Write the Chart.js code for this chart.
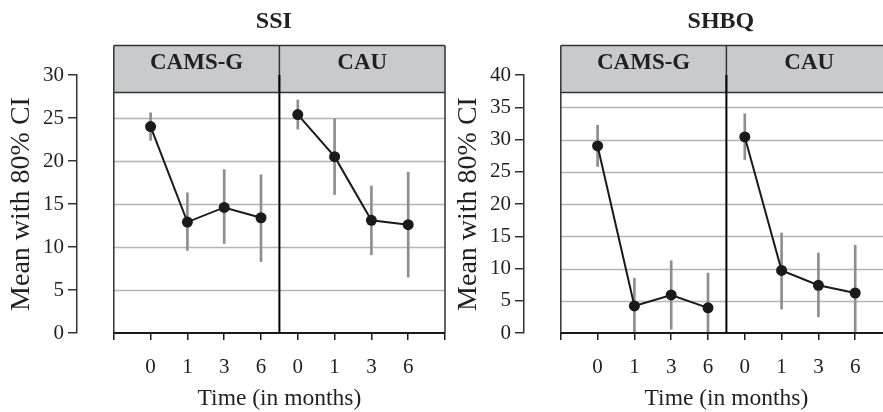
<!DOCTYPE html>
<html>
<head>
<meta charset="utf-8">
<script src="https://cdn.jsdelivr.net/npm/chart.js@4/dist/chart.umd.min.js"></script>
<style>
  html, body { margin: 0; padding: 0; background: #fff; overflow: hidden; }
  #wrap { position: relative; width: 883px; height: 412px; overflow: hidden; }
  canvas { position: absolute; top: 0; }
</style>
</head>
<body>
<div id="wrap">
  <canvas id="ssi" width="460" height="412" style="left:0"></canvas>
  <canvas id="shbq" width="460" height="412" style="left:447px"></canvas>
</div>
<script>
// tiempos de seguimiento (etiquetas del eje x)
const months = ['0', '1', '3', '6'];
const groups = ['CAMS-G', 'CAU'];

// SSI: media e intervalo de confianza 80%
const ssiCamsMean = [24.0, 12.9, 14.6, 13.4];
const ssiCamsLow  = [22.4, 9.6, 10.4, 8.3];
const ssiCamsHigh = [25.6, 16.3, 19.0, 18.4];
const ssiCauMean  = [25.4, 20.5, 13.1, 12.6];
const ssiCauLow   = [23.7, 16.1, 9.1, 6.5];
const ssiCauHigh  = [27.1, 24.9, 17.1, 18.7];

// SHBQ
const shbqCamsMean = [29.0, 4.2, 5.9, 3.9];
const shbqCamsLow  = [25.8, -0.2, 0.6, -1.4];
const shbqCamsHigh = [32.2, 8.5, 11.2, 9.3];
const shbqCauMean  = [30.4, 9.7, 7.4, 6.2];
const shbqCauLow   = [26.9, 3.7, 2.5, -1.1];
const shbqCauHigh  = [34.0, 15.5, 12.4, 13.6];

const FONT = "'Liberation Serif', 'Times New Roman', serif";
const TXT = '#231f20';

/* plugin para el recuadro, la franja gris, el divisor y los títulos */
const panelDeco = {
    id: 'panelDeco',
    beforeDatasetsDraw(chart, args, opts) {
        const {ctx} = chart;
        const x = chart.scales.x, y = chart.scales.y;
        ctx.save();
        ctx.strokeStyle = '#b5b5b5';
        ctx.lineWidth = 1.5;
        y.ticks.forEach(t => {
            if (t.value <= 0) return;
            const py = Math.round(y.getPixelForValue(t.value)) + 0.5;
            ctx.beginPath();
            ctx.moveTo(x.getPixelForValue(-1), py);
            ctx.lineTo(x.getPixelForValue(8), py);
            ctx.stroke();
        });
        ctx.restore();
    },
    afterDatasetsDraw(chart, args, opts) {
        const {ctx} = chart;
        const x = chart.scales.x, y = chart.scales.y;
        const left = x.getPixelForValue(-1), right = x.getPixelForValue(8);
        const mid = x.getPixelForValue(3.5);
        const stripTop = 45.5, stripBottom = 92.5;
        const bottom = y.getPixelForValue(0);
        ctx.save();
        // franja
        ctx.fillStyle = '#c9cacc';
        ctx.fillRect(left, stripTop, right - left, stripBottom - stripTop);
        ctx.strokeStyle = '#333';
        ctx.lineWidth = 1.5;
        ctx.beginPath();
        ctx.moveTo(left, stripTop); ctx.lineTo(right, stripTop);
        ctx.moveTo(left, stripBottom); ctx.lineTo(right, stripBottom);
        ctx.moveTo(left, stripTop); ctx.lineTo(left, bottom);
        ctx.moveTo(right, stripTop); ctx.lineTo(right, bottom);
        ctx.moveTo(mid, stripTop); ctx.lineTo(mid, stripBottom);
        ctx.stroke();
        // eje inferior
        ctx.strokeStyle = '#1a1a1a';
        ctx.lineWidth = 2;
        ctx.beginPath();
        ctx.moveTo(left, bottom); ctx.lineTo(right, bottom);
        ctx.stroke();
        // divisor entre grupos
        ctx.strokeStyle = '#000';
        ctx.lineWidth = 2;
        ctx.beginPath();
        ctx.moveTo(mid, y.getPixelForValue(y.max));
        ctx.lineTo(mid, bottom);
        ctx.stroke();
        // etiquetas de la franja
        ctx.fillStyle = TXT;
        ctx.textAlign = 'center';
        ctx.textBaseline = 'alphabetic';
        ctx.font = 'bold 23px ' + FONT;
        ctx.fillText(groups[0], x.getPixelForValue(1.25), 69);
        ctx.fillText(groups[1], x.getPixelForValue(5.75), 69);
        // titulo principal
        ctx.font = 'bold 24px ' + FONT;
        ctx.fillText(opts.title, x.getPixelForValue(3.35), 28);
        // titulo eje x
        ctx.font = '23.5px ' + FONT;
        ctx.fillText('Time (in months)', mid, 405);
        ctx.restore();
    }
};

function errorBars(low, high, shift) {
    return low.map((lo, i) => ({x: i + shift, y: [lo, high[i]]}));
}
function points(mean, shift) {
    return mean.map((m, i) => ({x: i + shift, y: m}));
}

function crearPanel(id, titulo, yMax, camsMean, camsLow, camsHigh, cauMean, cauLow, cauHigh) {
    const barStyle = {
        type: 'bar', backgroundColor: '#8e8e8e', borderWidth: 0,
        barThickness: 2, grouped: false, order: 2
    };
    const lineStyle = {
        type: 'line', borderColor: '#1a1a1a', borderWidth: 2, tension: 0,
        pointRadius: 5.5, pointBackgroundColor: '#1a1a1a', pointBorderWidth: 0, order: 1
    };
    return new Chart(document.getElementById(id), {
        type: 'line',
        data: {
            datasets: [
                {...barStyle, label: 'ci ' + groups[0], data: errorBars(camsLow, camsHigh, 0)},
                {...barStyle, label: 'ci ' + groups[1], data: errorBars(cauLow, cauHigh, 4)},
                {...lineStyle, label: groups[0], data: points(camsMean, 0)},
                {...lineStyle, label: groups[1], data: points(cauMean, 4)}
            ]
        },
        options: {
            responsive: false,
            animation: false,
            devicePixelRatio: 1,
            layout: { padding: {top: 75, left: 0, right: 13, bottom: 0} },
            scales: {
                x: {
                    type: 'linear', min: -2, max: 8, offset: false,
                    afterBuildTicks: axis => {
                        const t = [];
                        for (let v = -1; v <= 8; v++) t.push({value: v});
                        axis.ticks = t;
                    },
                    afterFit: scale => { scale.height = 79; },
                    ticks: {
                        autoSkip: false, maxRotation: 0, padding: 15, color: TXT,
                        font: {family: FONT, size: 21},
                        callback: v => (v >= 0 && v < 8) ? months[v % 4] : ''
                    },
                    grid: {display: true, drawOnChartArea: false, drawTicks: true, tickLength: 7,
                           color: '#1a1a1a', lineWidth: 1.5, offset: false},
                    border: {display: false}
                },
                y: {
                    min: 0, max: yMax,
                    afterFit: scale => { scale.width = 77; },
                    ticks: { stepSize: 5, padding: 4, color: TXT, font: {family: FONT, size: 21} },
                    grid: {display: true, drawOnChartArea: false, drawTicks: true, tickLength: 9,
                           color: '#333', lineWidth: 1.5},
                    border: {display: true, color: '#333', width: 1.5},
                    title: {display: true, text: 'Mean with 80% CI', color: TXT,
                            font: {family: FONT, size: 28}, padding: {top: 5, bottom: 0}}
                }
            },
            plugins: {
                legend: {display: false},
                tooltip: {enabled: false},
                panelDeco: {title: titulo}
            }
        },
        plugins: [panelDeco]
    });
}

crearPanel('ssi', 'SSI', 30, ssiCamsMean, ssiCamsLow, ssiCamsHigh, ssiCauMean, ssiCauLow, ssiCauHigh);
crearPanel('shbq', 'SHBQ', 40, shbqCamsMean, shbqCamsLow, shbqCamsHigh, shbqCauMean, shbqCauLow, shbqCauHigh);
</script>
</body>
</html>
